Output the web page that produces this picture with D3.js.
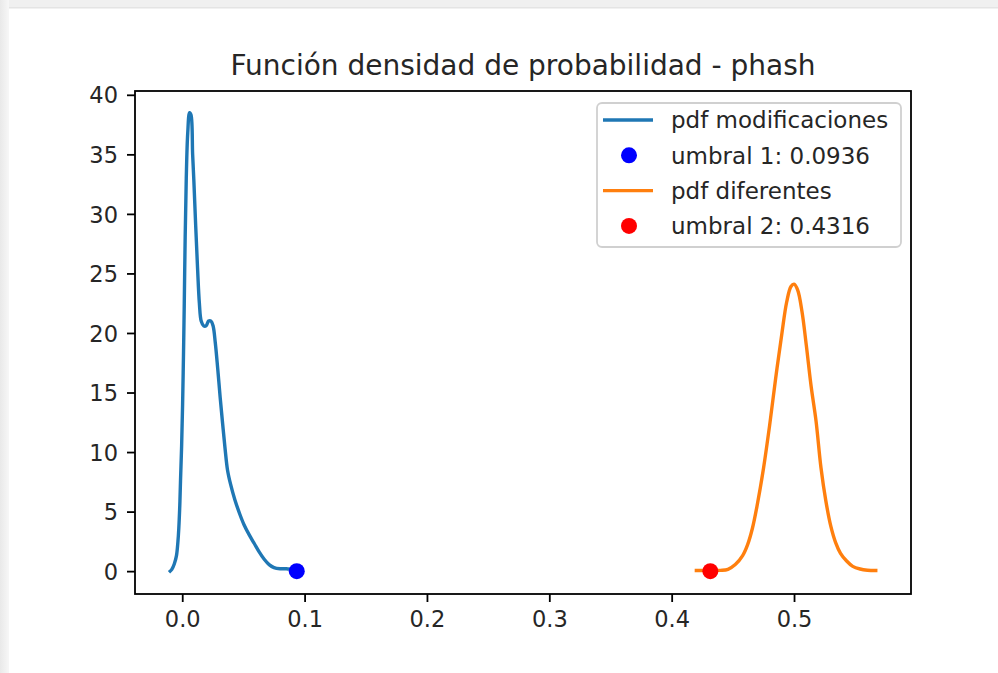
<!DOCTYPE html>
<html>
<head>
<meta charset="utf-8">
<script src="https://cdn.jsdelivr.net/npm/d3@7"></script>
<style>
  body { margin: 0; background: #fff; }
  svg { display: block; font-family: "DejaVu Sans", sans-serif; }
</style>
</head>
<body>
<svg width="998" height="673"></svg>
<script>
// kde of the "modificaciones" distances
var modX = [-0.0098, -0.0085, -0.0065, -0.0047, -0.0035, -0.0028, -0.0020, -0.0014, -0.0005, 0.0003,
            0.0010, 0.0016, 0.0024, 0.0033, 0.0045, 0.0060, 0.0072, 0.0085, 0.0095, 0.0110,
            0.0125, 0.0140, 0.0155, 0.0175, 0.0195, 0.0215, 0.0235, 0.0252, 0.0270, 0.0290,
            0.0310, 0.0330, 0.0350, 0.0370, 0.0395, 0.0430, 0.0470, 0.0505, 0.0550, 0.0590,
            0.0630, 0.0670, 0.0710, 0.0750, 0.0800, 0.0850, 0.0900, 0.0930];
var modY = [0.0, 0.15, 0.6, 1.3, 2.5, 3.6, 5.5, 7.6, 10.5, 14,
            18, 22, 28, 33, 36.8, 38.5, 38.3, 35, 32.8, 29,
            25.5, 22.5, 21.0, 20.6, 20.6, 21.0, 21.0, 20.6, 19.2, 17.0,
            14.6, 12.4, 10.3, 8.5, 7.3, 6.0, 4.8, 3.9, 3.0, 2.3,
            1.6, 1.0, 0.55, 0.3, 0.2, 0.2, 0.15, 0.12];

// kde of the "diferentes" distances
var difX = [0.4202, 0.4300, 0.4400, 0.4460, 0.4520, 0.4580, 0.4620, 0.4660, 0.4700, 0.4750,
            0.4800, 0.4850, 0.4900, 0.4940, 0.4975, 0.5000, 0.5030, 0.5065, 0.5100, 0.5140,
            0.5180, 0.5220, 0.5260, 0.5300, 0.5340, 0.5380, 0.5430, 0.5480, 0.5540, 0.5600, 0.5668];
var difY = [0.05, 0.05, 0.06, 0.15, 0.55, 1.3, 2.2, 3.6, 5.6, 8.6,
            12.2, 16.2, 19.9, 22.6, 23.9, 24.1, 23.6, 21.8, 19.0, 15.5,
            12.6, 8.7, 5.9, 3.8, 2.4, 1.5, 0.85, 0.4, 0.18, 0.08, 0.05];

var umbrales = [0.0936, 0.4316];
var xTicks = [0.0, 0.1, 0.2, 0.3, 0.4, 0.5];
var yTicks = [0, 5, 10, 15, 20, 25, 30, 35, 40];
var titulo = "Función densidad de probabilidad - phash";
var leyenda = ["pdf modificaciones", "umbral 1: 0.0936", "pdf diferentes", "umbral 2: 0.4316"];

var svg = d3.select("svg"),
    margin = { top: 91, right: 87, bottom: 79, left: 135 },
    width = +svg.attr("width") - margin.left - margin.right,
    height = +svg.attr("height") - margin.top - margin.bottom;

// light gray frame of the screenshot
var grad = svg.append("defs").append("linearGradient").attr("id", "lg");
grad.append("stop").attr("offset", "0%").attr("stop-color", "#e9e9e9");
grad.append("stop").attr("offset", "100%").attr("stop-color", "#f7f7f7");
svg.append("rect").attr("x", 0).attr("y", 0).attr("width", 998).attr("height", 7).attr("fill", "#f0f0f0");
svg.append("rect").attr("x", 0).attr("y", 7).attr("width", 998).attr("height", 1.5).attr("fill", "#e4e4e4");
svg.append("rect").attr("x", 0).attr("y", 0).attr("width", 9).attr("height", 673).attr("fill", "url(#lg)");

var g = svg.append("g").attr("transform", "translate(" + margin.left + "," + margin.top + ")");

var x = d3.scaleLinear().domain([-0.0386, 0.5956]).range([0, width]);
var y = d3.scaleLinear().domain([-1.92, 40.32]).range([height, 0]);

var line = d3.line()
    .x(function (d) { return x(d[0]); })
    .y(function (d) { return y(d[1]); })
    .curve(d3.curveCatmullRom.alpha(0.5));

var modData = d3.zip(modX, modY),
    difData = d3.zip(difX, difY);

g.append("path").datum(modData)
    .attr("fill", "none").attr("stroke", "#1f77b4").attr("stroke-width", 3.4)
    .attr("stroke-linejoin", "round").attr("stroke-linecap", "square")
    .attr("d", line);

g.append("circle").attr("cx", x(umbrales[0])).attr("cy", y(0)).attr("r", 8).attr("fill", "#0000ff");

g.append("path").datum(difData)
    .attr("fill", "none").attr("stroke", "#ff7f0e").attr("stroke-width", 3.4)
    .attr("stroke-linejoin", "round").attr("stroke-linecap", "square")
    .attr("d", line);

g.append("circle").attr("cx", x(umbrales[1])).attr("cy", y(0)).attr("r", 8).attr("fill", "#ff0000");

// axes
var xAxis = g.append("g")
    .attr("transform", "translate(0," + height + ")")
    .call(d3.axisBottom(x).tickValues(xTicks).tickFormat(d3.format(".1f")).tickSize(8).tickPadding(8));
var yAxis = g.append("g")
    .call(d3.axisLeft(y).tickValues(yTicks).tickFormat(d3.format("d")).tickSize(8).tickPadding(9));

[xAxis, yAxis].forEach(function (a) {
    a.select(".domain").remove();
    a.selectAll("line").attr("stroke", "#000").attr("stroke-width", 1.8);
    a.selectAll("text").attr("fill", "#262626").style("font-size", "22.5px")
        .style("font-family", "DejaVu Sans, sans-serif");
});
xAxis.selectAll("text").attr("dy", "0.75em");
yAxis.selectAll("text").attr("dy", "0.36em");

// frame
g.append("rect").attr("width", width).attr("height", height)
    .attr("fill", "none").attr("stroke", "#000").attr("stroke-width", 1.8);

// title
svg.append("text")
    .attr("x", margin.left + width / 2).attr("y", 75)
    .attr("text-anchor", "middle").attr("fill", "#262626")
    .style("font-size", "28px")
    .text(titulo);

// legend
var lg = svg.append("g").attr("transform", "translate(597,103)");
lg.append("rect").attr("width", 304).attr("height", 144).attr("rx", 5)
    .attr("fill", "#fff").attr("fill-opacity", 0.8)
    .attr("stroke", "#d0d0d0").attr("stroke-width", 1.8);

var items = lg.selectAll(".item").data(leyenda).enter().append("g")
    .attr("transform", function (d, i) { return "translate(0," + (17 + i * 35.3) + ")"; });

items.each(function (d, i) {
    var it = d3.select(this);
    if (i % 2 === 0) {
        it.append("line").attr("x1", 6).attr("x2", 56).attr("y1", 0).attr("y2", 0)
            .attr("stroke", i === 0 ? "#1f77b4" : "#ff7f0e").attr("stroke-width", 3.4);
    } else {
        it.append("circle").attr("cx", 32).attr("cy", 0).attr("r", 8)
            .attr("fill", i === 1 ? "#0000ff" : "#ff0000");
    }
    it.append("text").attr("x", 74).attr("y", 0).attr("dy", "0.36em")
        .attr("fill", "#262626").style("font-size", "23px").text(d);
});
</script>
</body>
</html>
